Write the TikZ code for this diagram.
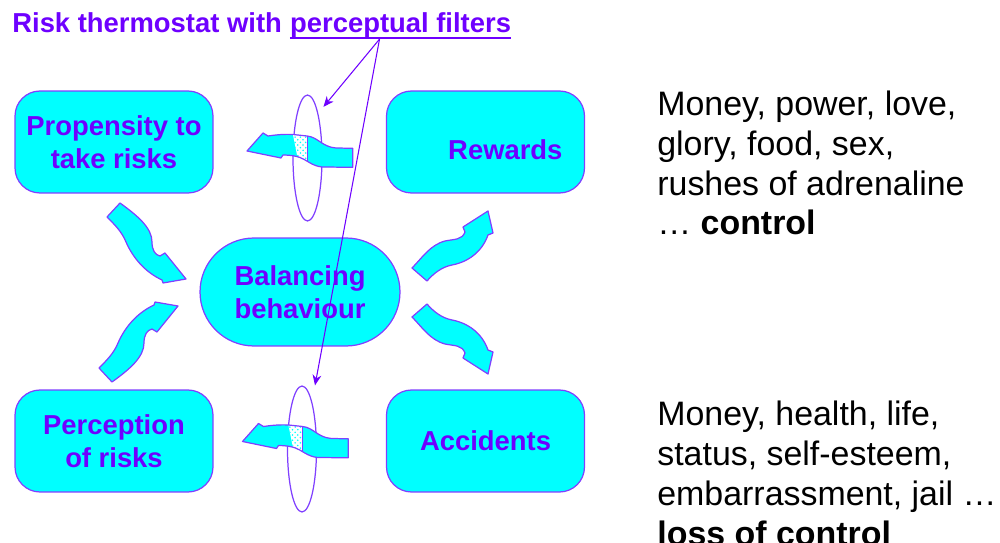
\documentclass[tikz,border=0pt]{standalone}
\usepackage{fontspec}
\setmainfont{Liberation Sans}
\usetikzlibrary{positioning}
\usetikzlibrary{shapes.geometric}
\usetikzlibrary{shapes.misc}
\usetikzlibrary{patterns}
\usetikzlibrary{arrows.meta}
\definecolor{boxFill}{RGB}{0,255,255}
\definecolor{boxLine}{RGB}{128,64,255}
\definecolor{labelColor}{RGB}{110,0,255}

% outlines of the block arrows, in pixel units
\newcommand{\filterArrowPath}{(352.7,148.3) -- (336,148) .. controls (322,147) and (318,137) .. (307,136) -- (293,134.5) .. controls (283,134) and (275,135) .. (268,136) -- (263,133) -- (247,151) -- (281,158) -- (283,155) .. controls (290,155) and (296,156) .. (300,157.5) .. controls (306,159.5) and (312,166) .. (322,167) -- (352.7,167.3) -- cycle}
\newcommand{\wavyLeftPath}{(120,203) .. controls (138,216) and (152,228) .. (152,242) .. controls (152,250) and (155,255) .. (160,256) -- (165,253) -- (186,279) -- (163,283) -- (162,280) .. controls (145,272) and (133,258) .. (126,242) .. controls (122,232) and (115,225) .. (107,217) -- cycle}
\newcommand{\wavyRightPath}{(412,268) .. controls (422,258) and (430,245) .. (445,241) .. controls (455,239) and (462,240) .. (465,232) -- (463,227) -- (488,211) -- (493,233) -- (488,235) .. controls (482,252) and (468,262) .. (452,265) .. controls (442,267) and (434,273) .. (427,281) -- cycle}

\begin{document}
\begin{tikzpicture}[x=0.02cm,y=-0.02cm]

            \tikzstyle{boxText} = [text=labelColor, font=\fontsize{15.6}{18.7}\selectfont\bfseries];
            \tikzstyle{riskBox} = [boxText, draw=boxLine, line width=0.7pt, fill=boxFill, rounded corners=0.5cm, minimum width=3.96cm, minimum height=2.04cm, align=center, inner sep=0pt];
            \tikzstyle{centreBox} = [boxText, draw=boxLine, line width=0.7pt, fill=boxFill, rounded rectangle, minimum width=4cm, minimum height=2.16cm, align=center, inner sep=0pt];
            \tikzstyle{filterRing} = [draw=boxLine, line width=0.7pt, fill=white, ellipse, minimum width=0.58cm, minimum height=2.52cm, inner sep=0pt];
            \tikzstyle{wavyArrow} = [draw=boxLine, line width=0.7pt, fill=boxFill, line join=round];
            \tikzstyle{filterLine} = [draw=labelColor, line width=0.6pt, -{Stealth[length=6pt,width=5pt]}];
            \tikzstyle{sideText} = [align=left, anchor=base west, inner sep=0pt, font=\fontsize{19.3}{22.7}\selectfont];

            \useasboundingbox (0,0) rectangle (1000,543);

            \node[boxText, anchor=base west, inner sep=0pt] (title) at (12,33) {Risk thermostat with};
            \node[boxText, anchor=base west, inner sep=0pt] (pfText) at ([xshift=4.3pt]title.base east) {perceptual filters};
            \draw[labelColor, line width=1.1pt] ([yshift=-3pt]pfText.base west) -- ([yshift=-3pt]pfText.base east);

            \node[riskBox] (prop) at (114,142) {Propensity to\\take risks};
            \node[riskBox, label={[boxText, xshift=11.3pt, yshift=-4.5pt]center:Rewards}] (rew) at (485.5,142) {};
            \node[riskBox] (perc) at (114,441) {Perception\\of risks};
            \node[riskBox] (acc) at (485.5,441) {Accidents};
            \node[centreBox] (bal) at (300,292) {Balancing\\behaviour};

            % the two filters
            \node[filterRing] (filtTop) at (307.5,158) {};
            \node[filterRing] (filtBot) at (302,449) {};

            \foreach \dx/\dy in {0/0, -4.5/290.5} {
              \begin{scope}[shift={(\dx,\dy)}]
                \fill[boxFill] \filterArrowPath;
                \begin{scope}
                  \clip \filterArrowPath;
                  \fill[white] (291,125) -- (307.3,125) -- (307.3,175) -- (301,175) -- cycle;
                  \fill[pattern=crosshatch dots, pattern color=boxFill] (291,125) -- (307.3,125) -- (307.3,175) -- (301,175) -- cycle;
                  \draw[boxLine, line width=0.7pt] (307.3,125) -- (307.3,175);
                \end{scope}
                \draw[boxLine, line width=0.7pt, line join=round] \filterArrowPath;
              \end{scope}
            }

            % loop arrows round the centre
            \path[wavyArrow] \wavyLeftPath;
            \path[wavyArrow] \wavyRightPath;
            \begin{scope}[shift={(-8,585)}, yscale=-1]
              \path[wavyArrow] \wavyLeftPath;
            \end{scope}
            \begin{scope}[shift={(0,585)}, yscale=-1]
              \path[wavyArrow] \wavyRightPath;
            \end{scope}

            \coordinate (pf) at ([xshift=-12pt, yshift=-3.5pt]pfText.base);
            \draw[filterLine] (pf) -- ([shift={(3pt,3.5pt)}]filtTop.north east);
            \draw[filterLine] (pf) -- ([xshift=7.4pt]filtBot.north);

            \node[sideText] (gains) at (657,235) {Money, power, love,\\glory, food, sex,\\rushes of adrenaline\\… \textbf{control}};
            \node[sideText] (losses) at (657,545) {Money, health, life,\\status, self-esteem,\\embarrassment, jail …\\\textbf{loss of control}};
          \end{tikzpicture}
\end{document}
